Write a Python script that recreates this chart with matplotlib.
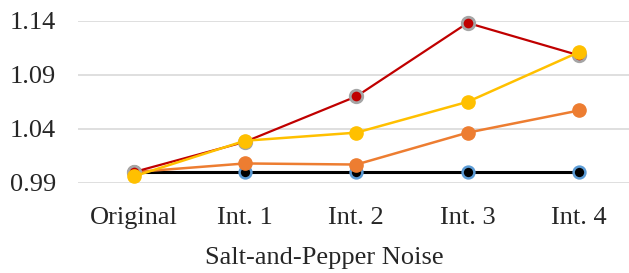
import matplotlib
matplotlib.use('Agg')
import matplotlib.pyplot as plt

# Data
categories = ['Original', 'Int. 1', 'Int. 2', 'Int. 3', 'Int. 4']
baseline = [1.0, 1.0, 1.0, 1.0, 1.0]
orange_vals = [1.0, 1.008, 1.007, 1.0365, 1.057]
red_vals = [1.0, 1.028, 1.070, 1.138, 1.108]
yellow_vals = [0.996, 1.029, 1.0365, 1.065, 1.111]
yticks = [0.99, 1.04, 1.09, 1.14]

plt.rcParams['font.family'] = ['Liberation Serif', 'DejaVu Serif']

fig = plt.figure(figsize=(6.29, 2.73), dpi=100)
ax = fig.add_axes([0.124, 0.330, 0.885, 0.594])

x = list(range(len(categories)))

ax.plot(x, baseline, color='black', lw=2.2, marker='o', ms=8.5,
        mfc='black', mec='#5B9BD5', mew=1.8, clip_on=False, zorder=3)
ax.plot(x, orange_vals, color='#ED7D31', lw=1.8, marker='o', ms=9.5,
        mfc='#ED7D31', mec='#ED7D31', clip_on=False, zorder=4)
ax.plot(x, red_vals, color='#C00000', lw=1.6, marker='o', ms=9,
        mfc='#C00000', mec='#A5A5A5', mew=2.0, clip_on=False, zorder=5)
ax.plot(x, yellow_vals, color='#FFC000', lw=1.8, marker='o', ms=9.5,
        mfc='#FFC000', mec='#FFC000', clip_on=False, zorder=6)

ax.set_xlim(-0.5, len(categories) - 0.5)
ax.set_ylim(0.99, 1.14)
ax.set_yticks(yticks)
ax.set_yticklabels([f'{v:.2f}' for v in yticks])
ax.set_xticks(x)
ax.set_xticklabels(categories)

ax.grid(axis='y', color='#D9D9D9', lw=1.2)
ax.set_axisbelow(True)
for s in ax.spines.values():
    s.set_visible(False)
ax.tick_params(length=0, labelsize=19, colors='#262626')
ax.tick_params(axis='x', pad=17)
ax.tick_params(axis='y', pad=16)

ax.set_xlabel('Salt-and-Pepper Noise', fontsize=19, color='#262626')
# the title sits a bit left of the axes centre in the original
ax.xaxis.label.set_va('baseline')
ax.xaxis.set_label_coords(0.443, -0.50)

fig.savefig('out.png', dpi=100)
